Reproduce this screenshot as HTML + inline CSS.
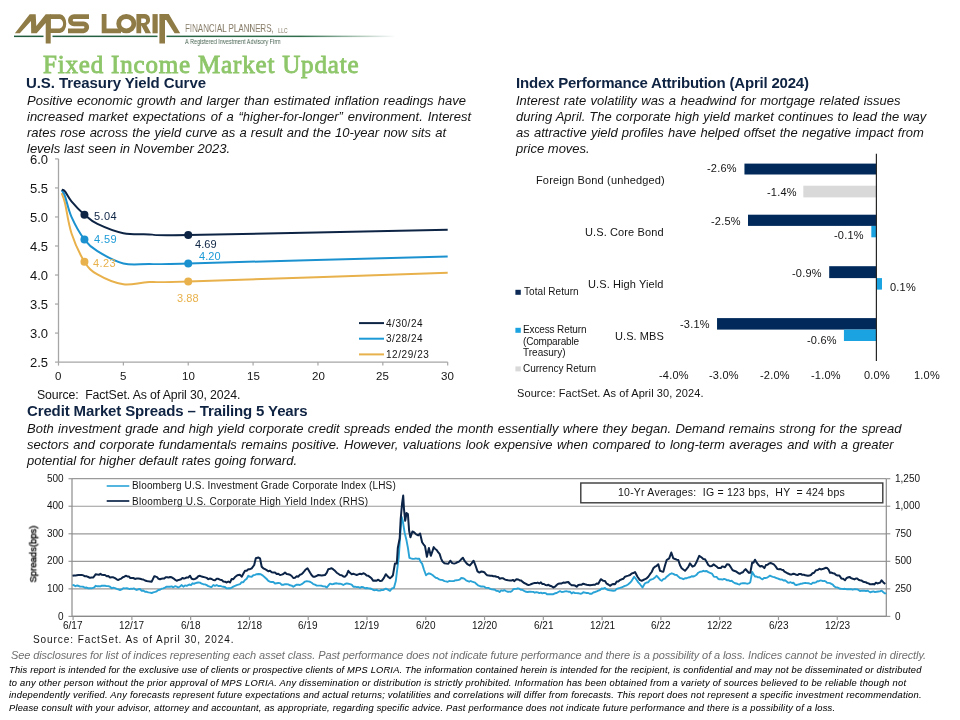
<!DOCTYPE html><html><head><meta charset="utf-8"><style>
html,body{margin:0;padding:0;background:#fff;}
body{width:960px;height:720px;position:relative;overflow:hidden;}
.t{position:absolute;white-space:pre;will-change:transform;}
svg{position:absolute;left:0;top:0;}
</style></head><body>
<svg width="960" height="720" viewBox="0 0 960 720" style="position:absolute;left:0;top:0">
<defs><linearGradient id="gl" x1="0" x2="1" y1="0" y2="0"><stop offset="0" stop-color="#1f5a3c"/><stop offset="0.75" stop-color="#2f6e4c"/><stop offset="1" stop-color="#2f6e4c" stop-opacity="0"/></linearGradient></defs>
<rect x="14" y="35.6" width="382" height="1.5" fill="url(#gl)"/>
<rect x="43.5" y="34.5" width="9" height="4" fill="#fff"/>
<rect x="157.5" y="34.5" width="9" height="4" fill="#fff"/>
<path fill="#8f7b45" d="M14.9 33.3 L19.8 33.3 L31 21 L31.2 33.3 L36.7 33.3 L45.7 23 L45.7 43.4 L50.7 43.4 L50.7 14.3 L45.7 14.3 L36.3 26 L35.7 14.3 L29.7 14.3 Z"/>
<path fill="#8f7b45" fill-rule="evenodd" d="M50 14.3 H60 A6.25 9.4 0 0 1 60 33.1 H50 Z M50.7 19.1 H59.5 A3.6 4.65 0 0 1 59.5 28.4 H50.7 Z"/>
<path fill="none" stroke="#8f7b45" stroke-width="4.7" d="M89 16.6 H74 A3.62 3.62 0 0 0 74 23.85 H83.5 A3.48 3.48 0 0 1 83.5 30.8 H68"/>
<path fill="#8f7b45" d="M101.7 14.1 H106.5 V28.5 H121 V33.3 H101.7 Z"/>
<ellipse cx="126.3" cy="23.7" rx="7.6" ry="7.2" fill="none" stroke="#8f7b45" stroke-width="4.8"/>
<path fill="#8f7b45" fill-rule="evenodd" d="M136.4 14.1 H144.5 A5.6 5.6 0 0 1 146.5 24.9 L151 33.3 H145.5 L141.2 25.2 V33.3 H136.4 Z M141.2 18.6 H144 A2.15 2.15 0 0 1 144 22.9 H141.2 Z"/>
<rect x="152.5" y="14.1" width="5.2" height="19.2" fill="#8f7b45"/>
<path fill="#8f7b45" d="M159.4 14.1 H168.8 L180.2 33.3 H174.6 L166.2 20 L165 20 V43.6 H159.4 Z"/>
</svg>
<div class="t" style="left:185.00px;top:23.07px;font:normal normal 11.5px/11.5px 'Liberation Sans',sans-serif;color:#857a66;letter-spacing:0.000px;transform:scaleX(0.6928);transform-origin:0 0;">FINANCIAL PLANNERS,</div>
<div class="t" style="left:277.50px;top:26.87px;font:normal normal 7px/7px 'Liberation Sans',sans-serif;color:#857a66;letter-spacing:0.000px;transform:scaleX(0.7398);transform-origin:0 0;">LLC</div>
<div class="t" style="left:185.00px;top:38.07px;font:normal normal 7px/7px 'Liberation Sans',sans-serif;color:#4b6655;letter-spacing:0.000px;transform:scaleX(0.7936);transform-origin:0 0;">A Registered Investment Advisory Firm</div>
<div class="t" style="left:42.50px;top:52.06px;font:normal normal 25px/25px 'Liberation Serif',sans-serif;color:#8ec66a;letter-spacing:0.818px;-webkit-text-stroke:0.85px #8ec66a;">Fixed Income Market Update</div>
<div class="t" style="left:26.00px;top:75.30px;font:normal bold 15px/15px 'Liberation Sans',sans-serif;color:#0f2342;letter-spacing:-0.073px;">U.S. Treasury Yield Curve</div>
<div class="t" style="left:515.50px;top:75.30px;font:normal bold 15px/15px 'Liberation Sans',sans-serif;color:#0f2342;letter-spacing:-0.199px;">Index Performance Attribution (April 2024)</div>
<div class="t" style="left:26.70px;top:402.60px;font:normal bold 15px/15px 'Liberation Sans',sans-serif;color:#0f2342;letter-spacing:-0.130px;">Credit Market Spreads – Trailing 5 Years</div>
<div class="t" style="left:26.60px;top:94.40px;font:italic normal 13px/13px 'Liberation Sans',sans-serif;color:#141414;word-spacing:0.766px">Positive economic growth and larger than estimated inflation readings have</div>
<div class="t" style="left:26.60px;top:110.30px;font:italic normal 13px/13px 'Liberation Sans',sans-serif;color:#141414;word-spacing:1.257px">increased market expectations of a “higher-for-longer” environment. Interest</div>
<div class="t" style="left:26.60px;top:126.20px;font:italic normal 13px/13px 'Liberation Sans',sans-serif;color:#141414;word-spacing:0.615px">rates rose across the yield curve as a result and the 10-year now sits at</div>
<div class="t" style="left:26.60px;top:142.30px;font:italic normal 13px/13px 'Liberation Sans',sans-serif;color:#141414;word-spacing:0.136px">levels last seen in November 2023.</div>
<div class="t" style="left:515.50px;top:94.30px;font:italic normal 13px/13px 'Liberation Sans',sans-serif;color:#141414;word-spacing:0.815px">Interest rate volatility was a headwind for mortgage related issues</div>
<div class="t" style="left:515.50px;top:110.30px;font:italic normal 13px/13px 'Liberation Sans',sans-serif;color:#141414;word-spacing:0.427px">during April. The corporate high yield market continues to lead the way</div>
<div class="t" style="left:515.50px;top:126.00px;font:italic normal 13px/13px 'Liberation Sans',sans-serif;color:#141414;word-spacing:0.606px">as attractive yield profiles have helped offset the negative impact from</div>
<div class="t" style="left:515.50px;top:142.10px;font:italic normal 13px/13px 'Liberation Sans',sans-serif;color:#141414;word-spacing:0.014px">price moves.</div>
<div class="t" style="left:26.70px;top:421.80px;font:italic normal 13px/13px 'Liberation Sans',sans-serif;color:#141414;word-spacing:0.687px">Both investment grade and high yield corporate credit spreads ended the month essentially where they began. Demand remains strong for the spread</div>
<div class="t" style="left:26.70px;top:438.00px;font:italic normal 13px/13px 'Liberation Sans',sans-serif;color:#141414;word-spacing:0.817px">sectors and corporate fundamentals remains positive. However, valuations look expensive when compared to long-term averages and with a greater</div>
<div class="t" style="left:26.70px;top:453.60px;font:italic normal 13px/13px 'Liberation Sans',sans-serif;color:#141414;word-spacing:0.199px">potential for higher default rates going forward.</div>
<svg width="960" height="720" style="position:absolute;left:0;top:0"><line x1="58.5" y1="158.9" x2="58.5" y2="362.1" stroke="#a6a6a6" stroke-width="1.3"/><line x1="58.5" y1="362.1" x2="447.7" y2="362.1" stroke="#a6a6a6" stroke-width="1.3"/><line x1="55" y1="158.90" x2="58.5" y2="158.90" stroke="#a6a6a6" stroke-width="1.2"/><line x1="55" y1="187.93" x2="58.5" y2="187.93" stroke="#a6a6a6" stroke-width="1.2"/><line x1="55" y1="216.96" x2="58.5" y2="216.96" stroke="#a6a6a6" stroke-width="1.2"/><line x1="55" y1="245.99" x2="58.5" y2="245.99" stroke="#a6a6a6" stroke-width="1.2"/><line x1="55" y1="275.02" x2="58.5" y2="275.02" stroke="#a6a6a6" stroke-width="1.2"/><line x1="55" y1="304.05" x2="58.5" y2="304.05" stroke="#a6a6a6" stroke-width="1.2"/><line x1="55" y1="333.08" x2="58.5" y2="333.08" stroke="#a6a6a6" stroke-width="1.2"/><line x1="55" y1="362.11" x2="58.5" y2="362.11" stroke="#a6a6a6" stroke-width="1.2"/><line x1="58.50" y1="362.1" x2="58.50" y2="365.6" stroke="#a6a6a6" stroke-width="1.2"/><line x1="123.37" y1="362.1" x2="123.37" y2="365.6" stroke="#a6a6a6" stroke-width="1.2"/><line x1="188.23" y1="362.1" x2="188.23" y2="365.6" stroke="#a6a6a6" stroke-width="1.2"/><line x1="253.09" y1="362.1" x2="253.09" y2="365.6" stroke="#a6a6a6" stroke-width="1.2"/><line x1="317.96" y1="362.1" x2="317.96" y2="365.6" stroke="#a6a6a6" stroke-width="1.2"/><line x1="382.83" y1="362.1" x2="382.83" y2="365.6" stroke="#a6a6a6" stroke-width="1.2"/><line x1="447.69" y1="362.1" x2="447.69" y2="365.6" stroke="#a6a6a6" stroke-width="1.2"/><path d="M61.74 193.16 C62.28 194.80 63.36 196.35 64.99 203.03 C66.61 209.70 68.23 223.44 71.47 233.22 C74.72 242.99 80.12 254.80 84.45 261.67 C88.77 268.54 90.93 270.67 97.42 274.44 C103.91 278.21 114.72 283.05 123.37 284.31 C132.01 285.57 138.50 282.47 149.31 281.99 C160.12 281.50 138.50 282.95 188.23 281.41 C237.96 279.86 404.45 274.15 447.69 272.70" fill="none" stroke="#e8b14b" stroke-width="2"/><circle cx="84.45" cy="261.67" r="4" fill="#e8b14b"/><circle cx="188.23" cy="281.41" r="4" fill="#e8b14b"/><path d="M61.74 190.25 C62.28 191.22 63.36 191.61 64.99 196.06 C66.61 200.51 68.23 209.70 71.47 216.96 C74.72 224.22 80.12 233.89 84.45 239.60 C88.77 245.31 90.93 247.25 97.42 251.22 C103.91 255.18 114.72 261.28 123.37 263.41 C132.01 265.54 138.50 263.99 149.31 263.99 C160.12 263.99 138.50 264.67 188.23 263.41 C237.96 262.15 404.45 257.60 447.69 256.44" fill="none" stroke="#1b92cf" stroke-width="2"/><circle cx="84.45" cy="239.60" r="4" fill="#1b92cf"/><circle cx="188.23" cy="263.41" r="4" fill="#1b92cf"/><path d="M61.74 189.67 C62.28 189.96 63.36 189.48 64.99 191.41 C66.61 193.35 68.23 197.41 71.47 201.28 C74.72 205.15 80.12 210.86 84.45 214.64 C88.77 218.41 90.93 220.83 97.42 223.93 C103.91 227.02 114.72 231.48 123.37 233.22 C132.01 234.96 138.50 234.09 149.31 234.38 C160.12 234.67 138.50 235.73 188.23 234.96 C237.96 234.18 404.45 230.60 447.69 229.73" fill="none" stroke="#0d2444" stroke-width="2"/><circle cx="84.45" cy="214.64" r="4" fill="#0d2444"/><circle cx="188.23" cy="234.96" r="4" fill="#0d2444"/><line x1="359" y1="323.1" x2="384" y2="323.1" stroke="#0d2444" stroke-width="2"/><line x1="359" y1="338.7" x2="384" y2="338.7" stroke="#1b9ad6" stroke-width="2"/><line x1="359" y1="354.4" x2="384" y2="354.4" stroke="#e8b14b" stroke-width="2"/></svg>
<div class="t" style="left:29.63px;top:152.60px;font:normal normal 13px/13px 'Liberation Sans',sans-serif;color:#141414;letter-spacing:0.000px;">6.0</div>
<div class="t" style="left:29.63px;top:181.63px;font:normal normal 13px/13px 'Liberation Sans',sans-serif;color:#141414;letter-spacing:0.000px;">5.5</div>
<div class="t" style="left:29.63px;top:210.66px;font:normal normal 13px/13px 'Liberation Sans',sans-serif;color:#141414;letter-spacing:0.000px;">5.0</div>
<div class="t" style="left:29.63px;top:239.69px;font:normal normal 13px/13px 'Liberation Sans',sans-serif;color:#141414;letter-spacing:0.000px;">4.5</div>
<div class="t" style="left:29.63px;top:268.72px;font:normal normal 13px/13px 'Liberation Sans',sans-serif;color:#141414;letter-spacing:0.000px;">4.0</div>
<div class="t" style="left:29.63px;top:297.75px;font:normal normal 13px/13px 'Liberation Sans',sans-serif;color:#141414;letter-spacing:0.000px;">3.5</div>
<div class="t" style="left:29.63px;top:326.78px;font:normal normal 13px/13px 'Liberation Sans',sans-serif;color:#141414;letter-spacing:0.000px;">3.0</div>
<div class="t" style="left:29.63px;top:355.81px;font:normal normal 13px/13px 'Liberation Sans',sans-serif;color:#141414;letter-spacing:0.000px;">2.5</div>
<div class="t" style="left:55.30px;top:370.87px;font:normal normal 11.5px/11.5px 'Liberation Sans',sans-serif;color:#141414;letter-spacing:0.000px;">0</div>
<div class="t" style="left:120.17px;top:370.87px;font:normal normal 11.5px/11.5px 'Liberation Sans',sans-serif;color:#141414;letter-spacing:0.000px;">5</div>
<div class="t" style="left:181.83px;top:370.87px;font:normal normal 11.5px/11.5px 'Liberation Sans',sans-serif;color:#141414;letter-spacing:0.000px;">10</div>
<div class="t" style="left:246.70px;top:370.87px;font:normal normal 11.5px/11.5px 'Liberation Sans',sans-serif;color:#141414;letter-spacing:0.000px;">15</div>
<div class="t" style="left:311.56px;top:370.87px;font:normal normal 11.5px/11.5px 'Liberation Sans',sans-serif;color:#141414;letter-spacing:0.000px;">20</div>
<div class="t" style="left:376.43px;top:370.87px;font:normal normal 11.5px/11.5px 'Liberation Sans',sans-serif;color:#141414;letter-spacing:0.000px;">25</div>
<div class="t" style="left:441.29px;top:370.87px;font:normal normal 11.5px/11.5px 'Liberation Sans',sans-serif;color:#141414;letter-spacing:0.000px;">30</div>
<div class="t" style="left:94.20px;top:211.19px;font:normal normal 11px/11px 'Liberation Sans',sans-serif;color:#0d2444;letter-spacing:0.400px;">5.04</div>
<div class="t" style="left:94.20px;top:233.99px;font:normal normal 11px/11px 'Liberation Sans',sans-serif;color:#1b9ad6;letter-spacing:0.400px;">4.59</div>
<div class="t" style="left:92.50px;top:258.19px;font:normal normal 11px/11px 'Liberation Sans',sans-serif;color:#e8b14b;letter-spacing:0.400px;">4.23</div>
<div class="t" style="left:195.20px;top:238.59px;font:normal normal 11px/11px 'Liberation Sans',sans-serif;color:#0d2444;letter-spacing:0.100px;">4.69</div>
<div class="t" style="left:199.00px;top:250.89px;font:normal normal 11px/11px 'Liberation Sans',sans-serif;color:#1b9ad6;letter-spacing:0.100px;">4.20</div>
<div class="t" style="left:177.15px;top:293.39px;font:normal normal 11px/11px 'Liberation Sans',sans-serif;color:#e8b14b;letter-spacing:0.100px;">3.88</div>
<div class="t" style="left:386.00px;top:318.84px;font:normal normal 10px/10px 'Liberation Sans',sans-serif;color:#141414;letter-spacing:0.540px;">4/30/24</div>
<div class="t" style="left:386.00px;top:334.44px;font:normal normal 10px/10px 'Liberation Sans',sans-serif;color:#141414;letter-spacing:0.540px;">3/28/24</div>
<div class="t" style="left:386.00px;top:350.14px;font:normal normal 10px/10px 'Liberation Sans',sans-serif;color:#141414;letter-spacing:0.554px;">12/29/23</div>
<div class="t" style="left:37.30px;top:389.19px;font:normal normal 12.3px/12.3px 'Liberation Sans',sans-serif;color:#141414;letter-spacing:-0.117px;">Source:  FactSet. As of April 30, 2024.</div>
<svg width="960" height="720" style="position:absolute;left:0;top:0"><rect x="744.45" y="163.6" width="131.95" height="10.90" fill="#012a5b"/><rect x="803.32" y="185.7" width="73.08" height="11.70" fill="#d9d9d9"/><rect x="748.00" y="214.7" width="128.40" height="11.20" fill="#012a5b"/><rect x="871.32" y="226" width="5.08" height="11.30" fill="#1aa3e0"/><rect x="829.20" y="266.2" width="47.20" height="11.90" fill="#012a5b"/><rect x="876.40" y="278.1" width="5.58" height="11.50" fill="#1aa3e0"/><rect x="717.04" y="318.1" width="159.36" height="11.50" fill="#012a5b"/><rect x="843.92" y="329.6" width="32.48" height="11.40" fill="#1aa3e0"/><line x1="876.4" y1="153.8" x2="876.4" y2="361" stroke="#262626" stroke-width="1.2"/><rect x="515.4" y="289.8" width="5.4" height="5" fill="#0c2a55"/><rect x="515.4" y="327.8" width="5.4" height="5" fill="#1aa3e0"/><rect x="515.4" y="366.4" width="5.4" height="5" fill="#d9d9d9"/></svg>
<div class="t" style="left:707.47px;top:163.19px;font:normal normal 11px/11px 'Liberation Sans',sans-serif;color:#141414;letter-spacing:0.200px;">-2.6%</div>
<div class="t" style="left:766.97px;top:186.89px;font:normal normal 11px/11px 'Liberation Sans',sans-serif;color:#141414;letter-spacing:0.200px;">-1.4%</div>
<div class="t" style="left:711.47px;top:215.69px;font:normal normal 11px/11px 'Liberation Sans',sans-serif;color:#141414;letter-spacing:0.200px;">-2.5%</div>
<div class="t" style="left:833.97px;top:230.19px;font:normal normal 11px/11px 'Liberation Sans',sans-serif;color:#141414;letter-spacing:0.200px;">-0.1%</div>
<div class="t" style="left:791.97px;top:267.89px;font:normal normal 11px/11px 'Liberation Sans',sans-serif;color:#141414;letter-spacing:0.200px;">-0.9%</div>
<div class="t" style="left:889.50px;top:281.89px;font:normal normal 11px/11px 'Liberation Sans',sans-serif;color:#141414;letter-spacing:0.200px;">0.1%</div>
<div class="t" style="left:679.97px;top:319.19px;font:normal normal 11px/11px 'Liberation Sans',sans-serif;color:#141414;letter-spacing:0.200px;">-3.1%</div>
<div class="t" style="left:806.97px;top:335.19px;font:normal normal 11px/11px 'Liberation Sans',sans-serif;color:#141414;letter-spacing:0.200px;">-0.6%</div>
<div class="t" style="left:658.63px;top:369.89px;font:normal normal 11px/11px 'Liberation Sans',sans-serif;color:#141414;letter-spacing:0.200px;">-4.0%</div>
<div class="t" style="left:709.38px;top:369.89px;font:normal normal 11px/11px 'Liberation Sans',sans-serif;color:#141414;letter-spacing:0.200px;">-3.0%</div>
<div class="t" style="left:760.13px;top:369.89px;font:normal normal 11px/11px 'Liberation Sans',sans-serif;color:#141414;letter-spacing:0.200px;">-2.0%</div>
<div class="t" style="left:810.88px;top:369.89px;font:normal normal 11px/11px 'Liberation Sans',sans-serif;color:#141414;letter-spacing:0.200px;">-1.0%</div>
<div class="t" style="left:863.56px;top:369.89px;font:normal normal 11px/11px 'Liberation Sans',sans-serif;color:#141414;letter-spacing:0.200px;">0.0%</div>
<div class="t" style="left:914.31px;top:369.89px;font:normal normal 11px/11px 'Liberation Sans',sans-serif;color:#141414;letter-spacing:0.200px;">1.0%</div>
<div class="t" style="left:536.30px;top:174.89px;font:normal normal 11px/11px 'Liberation Sans',sans-serif;color:#141414;letter-spacing:0.152px;">Foreign Bond (unhedged)</div>
<div class="t" style="left:585.30px;top:227.09px;font:normal normal 11px/11px 'Liberation Sans',sans-serif;color:#141414;letter-spacing:0.113px;">U.S. Core Bond</div>
<div class="t" style="left:588.40px;top:278.99px;font:normal normal 11px/11px 'Liberation Sans',sans-serif;color:#141414;letter-spacing:0.101px;">U.S. High Yield</div>
<div class="t" style="left:615.00px;top:331.09px;font:normal normal 11px/11px 'Liberation Sans',sans-serif;color:#141414;letter-spacing:0.073px;">U.S. MBS</div>
<div class="t" style="left:523.80px;top:286.94px;font:normal normal 10px/10px 'Liberation Sans',sans-serif;color:#141414;letter-spacing:0.062px;">Total Return</div>
<div class="t" style="left:523.30px;top:325.04px;font:normal normal 10px/10px 'Liberation Sans',sans-serif;color:#141414;letter-spacing:-0.127px;">Excess Return</div>
<div class="t" style="left:523.30px;top:336.74px;font:normal normal 10px/10px 'Liberation Sans',sans-serif;color:#141414;letter-spacing:-0.180px;">(Comparable</div>
<div class="t" style="left:523.30px;top:348.04px;font:normal normal 10px/10px 'Liberation Sans',sans-serif;color:#141414;letter-spacing:0.011px;">Treasury)</div>
<div class="t" style="left:523.30px;top:363.84px;font:normal normal 10px/10px 'Liberation Sans',sans-serif;color:#141414;letter-spacing:-0.025px;">Currency Return</div>
<div class="t" style="left:516.50px;top:388.19px;font:normal normal 11px/11px 'Liberation Sans',sans-serif;color:#141414;letter-spacing:0.100px;">Source: FactSet. As of April 30, 2024.</div>
<svg width="960" height="720" style="position:absolute;left:0;top:0"><line x1="72.0" y1="616.40" x2="886.3" y2="616.40" stroke="#9a9a9a" stroke-width="1.2"/><line x1="68.5" y1="616.40" x2="72.0" y2="616.40" stroke="#9a9a9a" stroke-width="1.2"/><line x1="886.3" y1="616.40" x2="890.30" y2="616.40" stroke="#9a9a9a" stroke-width="1.2"/><line x1="72.0" y1="588.86" x2="886.3" y2="588.86" stroke="#9a9a9a" stroke-width="1.2"/><line x1="68.5" y1="588.86" x2="72.0" y2="588.86" stroke="#9a9a9a" stroke-width="1.2"/><line x1="886.3" y1="588.86" x2="890.30" y2="588.86" stroke="#9a9a9a" stroke-width="1.2"/><line x1="72.0" y1="561.32" x2="886.3" y2="561.32" stroke="#9a9a9a" stroke-width="1.2"/><line x1="68.5" y1="561.32" x2="72.0" y2="561.32" stroke="#9a9a9a" stroke-width="1.2"/><line x1="886.3" y1="561.32" x2="890.30" y2="561.32" stroke="#9a9a9a" stroke-width="1.2"/><line x1="72.0" y1="533.78" x2="886.3" y2="533.78" stroke="#9a9a9a" stroke-width="1.2"/><line x1="68.5" y1="533.78" x2="72.0" y2="533.78" stroke="#9a9a9a" stroke-width="1.2"/><line x1="886.3" y1="533.78" x2="890.30" y2="533.78" stroke="#9a9a9a" stroke-width="1.2"/><line x1="72.0" y1="506.24" x2="886.3" y2="506.24" stroke="#9a9a9a" stroke-width="1.2"/><line x1="68.5" y1="506.24" x2="72.0" y2="506.24" stroke="#9a9a9a" stroke-width="1.2"/><line x1="886.3" y1="506.24" x2="890.30" y2="506.24" stroke="#9a9a9a" stroke-width="1.2"/><line x1="72.0" y1="478.70" x2="886.3" y2="478.70" stroke="#9a9a9a" stroke-width="1.2"/><line x1="68.5" y1="478.70" x2="72.0" y2="478.70" stroke="#9a9a9a" stroke-width="1.2"/><line x1="886.3" y1="478.70" x2="890.30" y2="478.70" stroke="#9a9a9a" stroke-width="1.2"/><line x1="72.0" y1="478.7" x2="72.0" y2="616.4" stroke="#8c8c8c" stroke-width="1.2"/><line x1="886.3" y1="478.7" x2="886.3" y2="616.4" stroke="#8c8c8c" stroke-width="1.2"/><line x1="72.0" y1="616.4" x2="886.3" y2="616.4" stroke="#8a8a8a" stroke-width="1.4"/><line x1="73.10" y1="616.4" x2="73.10" y2="620" stroke="#9a9a9a" stroke-width="1.2"/><line x1="131.88" y1="616.4" x2="131.88" y2="620" stroke="#9a9a9a" stroke-width="1.2"/><line x1="190.66" y1="616.4" x2="190.66" y2="620" stroke="#9a9a9a" stroke-width="1.2"/><line x1="249.44" y1="616.4" x2="249.44" y2="620" stroke="#9a9a9a" stroke-width="1.2"/><line x1="308.22" y1="616.4" x2="308.22" y2="620" stroke="#9a9a9a" stroke-width="1.2"/><line x1="367.00" y1="616.4" x2="367.00" y2="620" stroke="#9a9a9a" stroke-width="1.2"/><line x1="425.78" y1="616.4" x2="425.78" y2="620" stroke="#9a9a9a" stroke-width="1.2"/><line x1="484.56" y1="616.4" x2="484.56" y2="620" stroke="#9a9a9a" stroke-width="1.2"/><line x1="543.34" y1="616.4" x2="543.34" y2="620" stroke="#9a9a9a" stroke-width="1.2"/><line x1="602.12" y1="616.4" x2="602.12" y2="620" stroke="#9a9a9a" stroke-width="1.2"/><line x1="660.90" y1="616.4" x2="660.90" y2="620" stroke="#9a9a9a" stroke-width="1.2"/><line x1="719.68" y1="616.4" x2="719.68" y2="620" stroke="#9a9a9a" stroke-width="1.2"/><line x1="778.46" y1="616.4" x2="778.46" y2="620" stroke="#9a9a9a" stroke-width="1.2"/><line x1="837.24" y1="616.4" x2="837.24" y2="620" stroke="#9a9a9a" stroke-width="1.2"/><polyline points="72.5,585.0 74.0,585.2 75.4,586.2 76.9,585.5 78.3,585.8 80.0,586.5 81.7,586.6 83.3,586.7 85.0,587.8 86.7,587.5 88.3,588.3 90.0,588.3 91.7,588.3 93.8,587.7 95.8,585.8 97.4,586.3 98.9,586.2 100.4,586.4 101.9,585.6 103.5,585.7 105.0,585.8 106.7,586.1 108.3,586.1 110.0,586.7 111.7,588.3 113.3,587.7 115.0,588.1 116.7,588.8 118.3,589.4 120.0,590.0 121.7,589.4 123.3,588.3 125.0,588.4 126.7,588.3 128.1,588.5 129.5,589.1 131.0,588.7 132.4,588.9 133.8,588.4 135.2,589.3 136.7,590.0 138.3,589.3 140.0,589.0 141.7,590.8 143.3,590.5 145.0,591.7 146.7,591.8 148.3,592.4 150.0,592.6 151.7,593.0 153.3,592.4 155.0,591.9 156.7,591.3 158.3,590.0 160.0,589.7 161.7,588.7 163.3,588.3 165.0,587.6 166.7,586.7 168.3,586.8 170.0,586.7 171.7,586.4 173.3,587.3 175.0,586.2 176.7,586.7 178.3,587.5 180.0,586.5 181.7,585.1 183.3,586.7 185.0,585.4 186.7,585.8 188.1,585.1 189.6,584.5 191.0,585.2 192.5,583.3 194.0,583.9 195.4,583.1 196.9,582.8 198.3,582.5 200.0,582.6 201.7,583.7 203.3,584.2 205.0,584.4 206.7,585.1 208.3,586.1 210.0,586.7 211.7,587.0 213.3,585.0 215.0,585.8 216.7,585.0 218.3,586.0 220.0,585.9 221.7,586.4 223.3,586.7 225.0,587.0 226.7,588.4 228.3,588.3 230.0,588.3 231.7,587.6 233.3,586.6 235.0,585.8 236.7,585.1 238.3,584.6 240.0,584.2 241.7,582.2 243.3,582.2 245.0,580.0 246.7,578.7 248.3,575.8 250.0,576.6 251.7,576.7 253.3,575.2 255.0,574.9 256.7,574.2 258.8,574.0 260.8,574.2 262.9,575.6 265.0,577.5 266.7,579.0 268.3,580.8 270.0,581.7 271.7,582.0 273.3,582.0 275.0,583.5 276.7,583.2 278.3,583.0 280.0,583.1 281.7,584.7 283.3,584.8 285.0,584.1 286.7,584.2 288.3,584.4 290.0,585.3 291.7,585.6 293.3,586.7 295.0,585.6 296.7,584.6 298.3,584.8 300.0,585.0 301.7,584.2 303.3,583.0 305.0,581.6 306.7,581.3 308.3,581.4 310.0,581.7 311.7,582.7 313.3,584.1 315.0,584.7 316.7,585.6 318.3,585.6 320.0,585.6 321.7,585.8 323.3,586.4 325.0,586.4 326.7,587.5 328.3,585.7 330.0,583.7 331.7,584.2 333.3,584.0 335.0,583.5 336.7,583.3 338.3,583.7 340.0,583.7 341.7,584.1 343.3,585.0 345.0,584.0 346.7,583.4 348.3,583.7 350.0,584.1 351.7,584.6 353.3,586.7 355.0,586.7 356.7,587.1 358.3,587.0 360.0,587.8 361.7,586.9 363.3,587.2 365.0,588.3 366.7,588.0 368.3,588.3 370.0,588.5 371.7,589.0 373.3,590.0 375.0,590.2 376.7,589.8 378.3,590.6 380.0,590.5 381.5,590.0 382.9,590.1 384.4,589.3 385.8,588.7 387.9,589.7 390.0,590.8 391.9,588.5 393.9,587.9 395.8,581.1 397.3,568.6 398.7,557.8 400.7,528.6 401.7,516.9 402.8,520.8 404.6,532.5 406.5,540.3 408.0,548.4 409.4,557.8 410.9,558.4 412.4,558.7 414.1,558.9 415.8,558.4 417.5,558.8 419.2,558.7 420.6,561.8 422.1,563.6 424.0,569.7 426.0,575.3 427.4,574.1 428.9,573.3 430.8,574.0 432.8,575.3 434.2,576.5 435.7,577.7 437.1,578.0 438.6,579.1 440.1,579.7 441.5,579.9 443.0,580.2 444.4,581.1 446.0,581.4 447.5,581.8 449.1,581.0 450.7,581.1 452.2,581.1 453.7,581.1 455.1,580.4 456.6,580.2 458.0,580.1 459.7,579.7 461.3,578.0 462.9,578.2 464.5,578.9 466.1,580.4 467.8,581.1 469.2,581.7 470.7,581.0 472.1,581.7 473.6,582.1 475.1,582.6 476.5,584.1 478.0,585.3 479.4,585.9 481.0,586.5 482.5,586.4 484.1,586.6 485.6,587.7 487.2,587.9 488.8,588.0 490.3,588.8 491.9,589.4 493.4,589.5 495.0,589.8 496.5,590.9 498.1,591.0 499.6,592.0 501.2,590.4 502.8,590.8 504.3,590.1 505.9,591.0 507.4,591.7 509.0,591.6 510.5,591.8 512.0,591.0 513.4,589.2 514.9,588.9 516.4,588.9 517.8,588.3 519.3,588.7 520.7,589.7 522.2,589.8 524.1,590.9 526.1,591.8 527.5,592.0 529.0,591.7 530.5,591.6 531.9,591.9 533.4,591.9 534.8,592.7 536.3,592.2 537.7,592.4 539.3,593.1 540.9,592.6 542.4,593.4 544.0,592.9 545.5,593.1 547.0,594.3 548.5,594.3 550.0,594.2 551.7,594.3 553.3,594.2 555.0,593.3 556.7,593.0 558.3,592.0 560.0,591.2 561.7,592.0 563.3,591.9 565.0,591.4 566.7,591.3 568.3,591.7 570.0,591.8 571.7,593.4 573.3,592.3 575.0,593.0 576.7,593.1 578.3,593.2 580.0,593.7 581.7,593.6 583.3,592.3 585.0,592.6 586.7,593.0 588.3,593.0 590.0,593.8 591.7,593.7 593.3,592.5 595.0,592.0 596.7,591.4 598.3,590.6 600.0,590.0 601.7,588.5 603.3,588.7 605.0,588.0 606.7,589.4 608.3,590.0 610.0,590.3 611.7,590.5 613.3,590.8 615.0,590.6 616.7,588.9 618.3,588.3 620.0,587.9 621.7,587.3 623.3,586.7 625.0,585.8 626.7,585.3 628.3,584.2 630.0,582.8 631.7,580.8 634.2,576.7 636.7,580.0 638.3,582.4 640.0,584.2 642.5,587.5 645.0,583.3 646.7,582.5 648.3,582.2 650.0,580.0 651.7,579.3 653.3,578.8 655.0,577.4 656.7,575.8 658.3,577.7 660.0,579.7 661.7,580.8 663.3,579.2 665.0,578.6 666.7,576.7 668.3,575.4 670.0,574.1 671.7,573.3 673.3,573.9 675.0,574.9 676.7,575.0 678.3,576.6 680.0,578.0 681.7,578.4 683.3,579.2 685.0,578.3 686.7,578.2 688.3,577.5 690.0,577.3 691.7,576.2 693.3,576.5 695.0,575.8 696.7,574.7 698.3,572.7 700.0,571.7 701.7,571.6 703.3,570.8 705.0,571.3 706.7,571.0 708.3,572.1 710.0,572.8 711.9,573.6 713.8,576.6 715.2,576.9 716.6,576.9 718.0,578.6 719.4,579.4 720.9,579.3 722.5,579.6 724.1,578.9 725.6,579.4 727.2,580.3 728.8,580.3 730.3,581.1 731.9,580.8 733.4,582.3 735.0,583.3 736.6,583.5 738.1,584.1 739.5,584.5 740.9,583.4 742.3,583.3 743.8,583.1 745.4,583.3 747.0,583.7 748.7,583.4 750.3,582.2 752.2,571.9 753.6,574.2 755.0,576.6 756.5,576.5 758.0,577.4 759.5,577.3 761.0,578.5 762.5,579.4 764.0,578.0 765.5,578.0 767.0,577.6 768.5,576.7 770.0,575.6 771.5,576.4 773.0,576.9 774.5,577.2 776.0,578.0 777.5,578.4 779.0,579.0 780.5,579.6 782.0,579.5 783.5,580.6 785.0,580.3 786.4,581.3 787.8,582.5 789.2,582.7 790.6,582.2 792.0,583.0 793.4,582.7 794.8,584.5 796.3,585.0 797.8,584.6 799.3,584.3 800.8,583.7 802.3,583.5 803.8,583.1 805.3,582.9 806.8,583.1 808.3,583.2 809.8,583.7 811.3,584.1 812.8,582.6 814.3,582.7 815.8,582.4 817.3,581.2 818.8,581.3 820.2,580.5 821.6,580.6 823.0,581.1 824.4,580.9 825.8,581.5 827.2,582.9 828.6,582.9 830.0,583.1 831.4,583.9 832.8,584.6 834.2,586.3 835.6,587.3 837.2,587.4 838.8,588.1 840.3,588.8 841.9,588.9 843.4,589.0 845.0,588.8 846.5,589.2 848.0,589.3 849.5,589.1 851.0,589.2 852.5,589.7 854.0,589.3 855.5,589.3 857.0,589.4 858.5,589.9 860.0,591.0 861.5,590.6 863.0,590.8 864.5,590.6 866.0,591.1 867.5,590.6 869.0,591.5 870.5,592.3 872.0,591.7 873.5,591.4 875.0,592.1 876.7,591.7 878.3,591.5 879.9,591.4 881.6,590.6 883.1,592.0 884.7,593.4 886.3,593.4" fill="none" stroke="#29a3d6" stroke-width="1.9" stroke-linejoin="round"/><polyline points="72.5,575.8 74.0,575.5 75.4,575.6 76.9,575.2 78.3,575.0 80.0,575.1 81.7,574.9 83.3,575.4 85.0,576.3 86.7,576.3 88.3,577.0 90.0,577.8 91.7,577.6 93.3,577.5 95.8,574.2 97.4,574.6 98.9,574.8 100.4,573.8 101.9,574.8 103.5,575.0 105.0,575.0 106.7,576.2 108.3,576.0 110.0,577.5 111.7,577.2 113.3,577.3 115.0,578.1 116.7,579.3 118.3,580.0 119.8,579.1 121.3,578.6 122.8,577.2 124.3,576.7 125.8,575.8 127.3,576.4 128.8,576.4 130.3,578.0 131.8,578.0 133.3,578.0 135.0,578.9 136.7,578.6 138.3,578.4 140.0,578.7 141.7,579.2 143.3,579.5 145.0,580.5 146.7,581.0 148.3,581.3 150.0,581.4 151.7,581.7 154.2,576.3 155.6,576.6 157.1,577.1 158.5,578.8 160.0,579.2 161.4,578.7 162.9,578.6 164.3,578.5 165.7,577.2 167.1,577.3 168.6,577.6 170.0,577.0 171.7,577.3 173.3,578.3 175.0,579.6 176.7,580.8 178.1,580.1 179.5,579.8 181.0,579.3 182.4,578.0 183.8,578.5 185.2,578.2 186.7,577.5 188.3,577.4 190.0,575.8 191.7,578.8 193.3,579.2 195.0,578.9 196.7,578.0 198.3,576.3 200.0,575.8 201.7,576.6 203.3,576.9 205.0,577.4 206.7,577.9 208.3,579.2 210.0,578.5 211.7,579.0 213.3,580.0 215.0,580.2 216.7,578.8 218.3,578.8 220.0,579.7 221.7,579.9 223.3,581.5 225.0,581.7 226.7,582.5 228.3,581.5 230.0,582.5 231.7,578.9 233.3,579.2 235.0,577.1 236.7,575.7 238.3,575.0 240.0,574.8 241.7,576.7 243.3,573.8 245.0,570.8 246.7,570.7 248.3,569.2 250.0,569.2 251.7,568.3 254.2,565.0 255.8,558.3 258.3,557.5 260.0,558.3 261.7,566.7 263.3,568.3 265.0,569.2 266.7,570.1 268.3,571.3 270.0,570.8 271.7,572.2 273.3,572.6 275.0,572.5 276.7,574.0 278.3,573.7 280.0,575.0 281.7,574.6 283.3,574.0 285.0,572.5 286.7,574.1 288.3,574.2 290.0,574.7 291.7,576.0 293.3,578.0 295.0,577.7 296.7,576.2 298.3,576.7 300.0,574.7 301.7,574.1 303.3,572.5 305.4,569.8 307.5,568.3 310.0,572.5 311.7,575.2 313.3,576.7 315.0,576.7 316.7,575.8 318.3,575.0 320.0,575.2 321.7,575.5 323.3,575.2 325.0,575.0 326.7,572.9 328.3,569.2 330.0,568.8 331.7,568.3 333.3,569.4 335.0,570.8 336.7,572.7 338.3,573.8 340.0,575.0 341.7,575.2 343.3,576.4 345.0,576.7 346.7,574.8 348.3,570.8 350.0,572.8 351.7,574.2 353.3,573.8 355.0,574.4 356.7,575.0 358.3,574.4 360.0,573.8 361.7,574.2 363.3,573.3 365.0,573.9 366.7,575.5 368.3,575.8 370.0,577.1 371.7,578.6 373.3,580.8 375.0,580.5 376.7,580.7 378.3,579.7 380.0,581.1 381.7,580.8 383.8,578.1 385.8,574.2 387.9,576.6 390.0,578.2 391.5,577.0 392.9,575.3 394.9,563.6 396.8,563.6 397.8,548.0 399.7,538.3 400.7,518.9 402.1,503.3 403.2,495.6 404.0,509.2 405.2,520.8 406.5,513.0 407.9,514.0 409.1,530.5 410.4,537.3 412.4,531.5 414.3,532.5 416.2,534.4 418.2,535.4 420.1,533.5 422.1,542.2 423.5,544.3 425.0,546.1 426.9,556.8 428.9,548.0 430.8,555.8 432.3,551.7 433.7,547.1 435.2,549.0 436.7,550.0 438.1,552.2 439.6,553.9 441.0,558.3 442.5,561.6 444.4,563.2 446.4,563.6 448.3,563.7 450.3,560.7 452.2,563.1 454.2,563.6 455.8,563.1 457.4,562.2 459.0,561.6 461.0,559.6 462.9,557.8 464.8,561.2 466.8,563.6 468.2,564.6 469.7,565.5 471.6,563.4 473.6,560.7 475.5,565.5 477.5,571.4 479.4,572.6 481.4,571.4 482.8,571.7 484.3,572.2 485.7,574.0 487.2,575.3 488.8,575.5 490.3,575.8 491.9,575.7 493.4,576.2 495.0,576.2 496.5,576.8 498.1,576.9 499.6,578.7 501.2,578.3 502.8,578.2 504.7,579.3 506.6,580.1 508.2,580.3 509.8,580.4 511.3,580.6 512.9,579.9 514.4,581.1 516.4,579.2 518.3,579.5 519.8,580.4 521.2,580.6 522.7,581.9 524.1,583.0 525.6,583.7 527.1,584.5 528.5,585.1 530.0,584.6 531.5,584.0 533.1,583.4 534.6,583.0 536.2,583.1 537.7,582.6 539.3,583.5 540.9,582.4 542.4,584.1 544.0,584.0 545.5,585.0 547.0,585.2 548.5,584.8 550.0,585.8 551.7,586.3 553.3,587.5 555.0,586.7 556.7,585.1 558.3,583.7 560.0,583.5 561.7,583.4 563.3,582.5 565.0,582.7 566.7,582.3 568.3,582.0 570.0,584.0 571.7,585.2 573.3,585.3 575.0,585.6 576.7,586.7 578.3,585.0 580.0,584.8 581.7,584.7 583.3,583.7 585.0,584.3 586.7,584.7 588.3,585.0 590.0,585.3 591.7,585.1 593.3,584.7 595.0,584.8 596.7,583.5 598.3,583.7 600.8,579.2 603.3,580.8 605.0,581.0 606.7,583.7 608.3,584.5 610.0,585.8 611.7,584.7 613.3,583.9 615.0,584.2 616.7,581.6 618.3,581.5 620.0,580.0 621.7,579.3 623.3,578.8 625.0,576.7 626.7,576.1 628.3,575.6 630.0,575.0 631.7,573.4 633.3,573.1 635.0,572.0 637.5,576.7 639.6,579.8 641.7,580.8 643.3,580.0 645.0,579.2 646.7,578.3 648.3,576.7 650.0,574.2 651.7,572.0 653.3,568.3 655.0,566.7 656.7,565.8 658.3,564.2 660.0,570.8 661.7,571.4 663.3,571.7 665.0,565.5 666.7,560.0 669.2,558.3 671.3,552.5 673.3,558.3 675.0,559.0 676.7,559.7 678.3,560.0 680.0,565.2 681.7,568.3 683.3,569.5 685.0,570.8 686.7,568.9 688.3,566.9 690.0,563.3 692.5,566.7 694.6,565.6 696.7,561.7 699.2,555.8 701.7,557.5 703.3,559.0 705.0,559.2 706.7,562.0 708.3,565.0 710.0,566.3 711.9,565.9 713.8,564.4 715.2,565.6 716.6,566.5 718.0,567.9 719.4,568.1 720.8,568.1 722.2,566.4 723.6,566.8 725.0,567.2 726.9,564.3 728.8,564.4 730.6,566.9 732.5,570.0 734.0,570.8 735.5,571.2 737.0,572.1 738.5,573.2 740.0,573.8 741.4,572.8 742.8,572.3 744.2,570.5 745.6,569.1 747.2,571.0 748.8,572.7 750.3,572.8 752.2,562.5 753.6,562.7 755.0,559.7 756.9,562.9 758.8,565.3 760.2,566.5 761.6,566.0 763.0,566.7 764.4,568.1 765.9,565.1 767.5,564.8 769.1,563.4 770.6,563.0 772.2,563.7 773.8,564.4 775.6,566.4 777.5,569.1 778.9,569.2 780.3,569.1 781.7,569.7 783.1,570.0 784.5,571.7 785.9,572.4 787.3,573.2 788.8,573.8 790.3,574.5 791.8,574.4 793.3,573.8 794.8,574.1 796.3,574.7 797.8,574.9 799.3,573.9 800.8,574.0 802.3,574.8 803.8,574.7 805.2,575.3 806.6,575.5 808.0,575.8 809.4,575.6 810.9,575.0 812.5,573.3 814.1,572.8 815.9,570.2 817.8,570.0 819.4,568.8 820.9,569.4 822.5,569.1 824.1,568.5 825.6,567.8 827.2,568.1 828.6,569.7 830.0,572.8 831.5,572.6 833.0,573.2 834.5,573.5 836.0,574.9 837.5,575.6 839.4,575.5 841.3,578.4 843.1,578.8 845.0,580.3 846.4,578.2 847.8,577.5 849.5,576.9 851.1,578.1 852.7,578.7 854.4,579.4 855.8,578.6 857.2,578.6 858.6,579.8 860.0,580.3 861.4,580.4 862.8,581.5 864.2,582.1 865.6,582.2 867.1,583.0 868.6,583.4 870.1,584.3 871.6,584.2 873.1,584.1 874.5,584.4 875.9,582.7 877.4,583.4 878.8,583.1 880.2,582.6 881.6,580.3 883.4,582.4 885.3,584.1" fill="none" stroke="#0b2447" stroke-width="2" stroke-linejoin="round"/><line x1="106.7" y1="486" x2="129.3" y2="486" stroke="#29a3d6" stroke-width="1.6"/><line x1="106.7" y1="501" x2="129.3" y2="501" stroke="#0b2447" stroke-width="1.7"/><rect x="580.8" y="483" width="302" height="19.8" fill="#fff" stroke="#3a3a3a" stroke-width="1.4"/></svg>
<div class="t" style="left:58.14px;top:611.53px;font:normal normal 10px/10px 'Liberation Sans',sans-serif;color:#141414;letter-spacing:0.000px;">0</div>
<div class="t" style="left:47.02px;top:584.00px;font:normal normal 10px/10px 'Liberation Sans',sans-serif;color:#141414;letter-spacing:0.000px;">100</div>
<div class="t" style="left:47.02px;top:556.45px;font:normal normal 10px/10px 'Liberation Sans',sans-serif;color:#141414;letter-spacing:0.000px;">200</div>
<div class="t" style="left:47.02px;top:528.91px;font:normal normal 10px/10px 'Liberation Sans',sans-serif;color:#141414;letter-spacing:0.000px;">300</div>
<div class="t" style="left:47.02px;top:501.38px;font:normal normal 10px/10px 'Liberation Sans',sans-serif;color:#141414;letter-spacing:0.000px;">400</div>
<div class="t" style="left:47.02px;top:473.84px;font:normal normal 10px/10px 'Liberation Sans',sans-serif;color:#141414;letter-spacing:0.000px;">500</div>
<div class="t" style="left:895.00px;top:473.84px;font:normal normal 10px/10px 'Liberation Sans',sans-serif;color:#141414;letter-spacing:0.000px;">1,250</div>
<div class="t" style="left:895.00px;top:501.38px;font:normal normal 10px/10px 'Liberation Sans',sans-serif;color:#141414;letter-spacing:0.000px;">1,000</div>
<div class="t" style="left:895.00px;top:528.91px;font:normal normal 10px/10px 'Liberation Sans',sans-serif;color:#141414;letter-spacing:0.000px;">750</div>
<div class="t" style="left:895.00px;top:556.45px;font:normal normal 10px/10px 'Liberation Sans',sans-serif;color:#141414;letter-spacing:0.000px;">500</div>
<div class="t" style="left:895.00px;top:584.00px;font:normal normal 10px/10px 'Liberation Sans',sans-serif;color:#141414;letter-spacing:0.000px;">250</div>
<div class="t" style="left:895.00px;top:611.53px;font:normal normal 10px/10px 'Liberation Sans',sans-serif;color:#141414;letter-spacing:0.000px;">0</div>
<div class="t" style="left:63.37px;top:620.93px;font:normal normal 10px/10px 'Liberation Sans',sans-serif;color:#141414;letter-spacing:0.000px;">6/17</div>
<div class="t" style="left:119.37px;top:620.93px;font:normal normal 10px/10px 'Liberation Sans',sans-serif;color:#141414;letter-spacing:0.000px;">12/17</div>
<div class="t" style="left:180.93px;top:620.93px;font:normal normal 10px/10px 'Liberation Sans',sans-serif;color:#141414;letter-spacing:0.000px;">6/18</div>
<div class="t" style="left:236.93px;top:620.93px;font:normal normal 10px/10px 'Liberation Sans',sans-serif;color:#141414;letter-spacing:0.000px;">12/18</div>
<div class="t" style="left:298.49px;top:620.93px;font:normal normal 10px/10px 'Liberation Sans',sans-serif;color:#141414;letter-spacing:0.000px;">6/19</div>
<div class="t" style="left:354.49px;top:620.93px;font:normal normal 10px/10px 'Liberation Sans',sans-serif;color:#141414;letter-spacing:0.000px;">12/19</div>
<div class="t" style="left:416.05px;top:620.93px;font:normal normal 10px/10px 'Liberation Sans',sans-serif;color:#141414;letter-spacing:0.000px;">6/20</div>
<div class="t" style="left:472.05px;top:620.93px;font:normal normal 10px/10px 'Liberation Sans',sans-serif;color:#141414;letter-spacing:0.000px;">12/20</div>
<div class="t" style="left:533.61px;top:620.93px;font:normal normal 10px/10px 'Liberation Sans',sans-serif;color:#141414;letter-spacing:0.000px;">6/21</div>
<div class="t" style="left:589.61px;top:620.93px;font:normal normal 10px/10px 'Liberation Sans',sans-serif;color:#141414;letter-spacing:0.000px;">12/21</div>
<div class="t" style="left:651.17px;top:620.93px;font:normal normal 10px/10px 'Liberation Sans',sans-serif;color:#141414;letter-spacing:0.000px;">6/22</div>
<div class="t" style="left:707.17px;top:620.93px;font:normal normal 10px/10px 'Liberation Sans',sans-serif;color:#141414;letter-spacing:0.000px;">12/22</div>
<div class="t" style="left:768.73px;top:620.93px;font:normal normal 10px/10px 'Liberation Sans',sans-serif;color:#141414;letter-spacing:0.000px;">6/23</div>
<div class="t" style="left:824.73px;top:620.93px;font:normal normal 10px/10px 'Liberation Sans',sans-serif;color:#141414;letter-spacing:0.000px;">12/23</div>
<div class="t" style="left:132.30px;top:480.54px;font:normal normal 10px/10px 'Liberation Sans',sans-serif;color:#141414;letter-spacing:0.144px;">Bloomberg U.S. Investment Grade Corporate Index (LHS)</div>
<div class="t" style="left:132.30px;top:496.54px;font:normal normal 10px/10px 'Liberation Sans',sans-serif;color:#141414;letter-spacing:0.273px;">Bloomberg U.S. Corporate High Yield Index (RHS)</div>
<div class="t" style="left:618.30px;top:486.81px;font:normal normal 10.5px/10.5px 'Liberation Sans',sans-serif;color:#141414;letter-spacing:0.226px;">10-Yr Averages:  IG = 123 bps,  HY  = 424 bps</div>
<div class="t" style="left:33px;top:553.8px;width:0;height:0;"><div style="position:absolute;left:0;top:0;transform:translate(-50%,-50%) rotate(-90deg);font:9.5px/9.5px 'Liberation Sans',sans-serif;color:#000;letter-spacing:0px;-webkit-text-stroke:0.35px #000;white-space:pre">Spreads(bps)</div></div>
<div class="t" style="left:33.30px;top:634.53px;font:normal normal 10px/10px 'Liberation Sans',sans-serif;color:#141414;letter-spacing:0.927px;">Source: FactSet. As of April 30, 2024.</div>
<div class="t" style="left:11.30px;top:649.99px;font:italic normal 11px/11px 'Liberation Sans',sans-serif;color:#6e6e6e;letter-spacing:-0.106px;">See disclosures for list of indices representing each asset class. Past performance does not indicate future performance and there is a possibility of a loss. Indices cannot be invested in directly.</div>
<div class="t" style="left:8.80px;top:666.23px;font:italic normal 9.3px/9.3px 'Liberation Sans',sans-serif;color:#000;letter-spacing:0.201px;-webkit-text-stroke:0.05px #000;">This report is intended for the exclusive use of clients or prospective clients of MPS LORIA. The information contained herein is intended for the recipient, is confidential and may not be disseminated or distributed</div>
<div class="t" style="left:8.80px;top:678.73px;font:italic normal 9.3px/9.3px 'Liberation Sans',sans-serif;color:#000;letter-spacing:0.247px;-webkit-text-stroke:0.05px #000;">to any other person without the prior approval of MPS LORIA. Any dissemination or distribution is strictly prohibited. Information has been obtained from a variety of sources believed to be reliable though not</div>
<div class="t" style="left:8.80px;top:691.23px;font:italic normal 9.3px/9.3px 'Liberation Sans',sans-serif;color:#000;letter-spacing:0.251px;-webkit-text-stroke:0.05px #000;">independently verified. Any forecasts represent future expectations and actual returns; volatilities and correlations will differ from forecasts. This report does not represent a specific investment recommendation.</div>
<div class="t" style="left:8.80px;top:703.63px;font:italic normal 9.3px/9.3px 'Liberation Sans',sans-serif;color:#000;letter-spacing:0.222px;-webkit-text-stroke:0.05px #000;">Please consult with your advisor, attorney and accountant, as appropriate, regarding specific advice. Past performance does not indicate future performance and there is a possibility of a loss.</div>
</body></html>
